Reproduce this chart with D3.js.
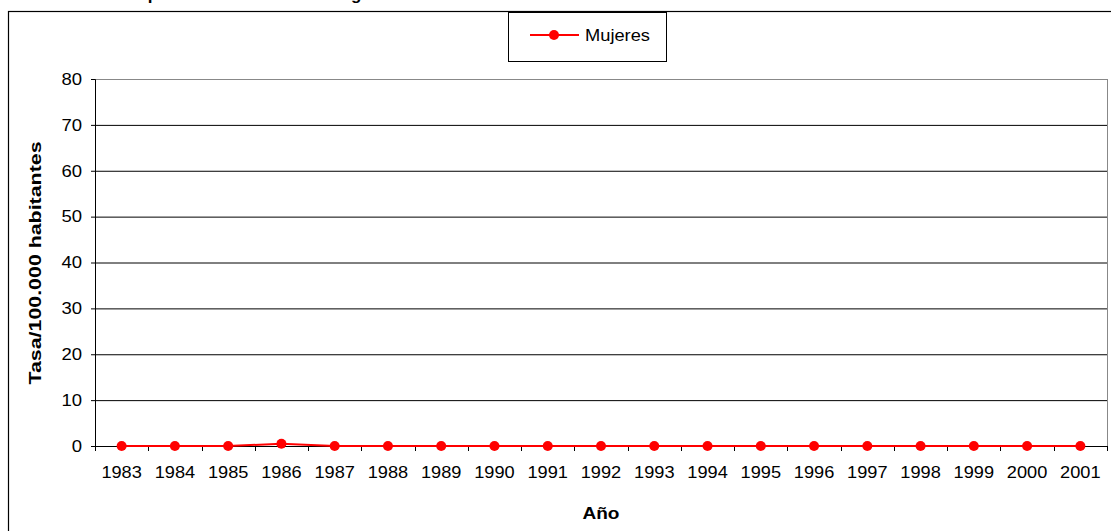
<!DOCTYPE html>
<html><head><meta charset="utf-8">
<script src="https://cdn.jsdelivr.net/npm/d3@7"></script>
<style>
html,body{margin:0;padding:0;background:#fff;overflow:hidden}
text{font-family:"Liberation Sans",Arial,sans-serif;fill:#000}
</style></head>
<body>
<svg id="c" width="1111" height="531"></svg>
<script>
const years = ["1983","1984","1985","1986","1987","1988","1989","1990","1991","1992","1993","1994","1995","1996","1997","1998","1999","2000","2001"];
const mujeres = [0,0,0,0.5,0,0,0,0,0,0,0,0,0,0,0,0,0,0,0];
const yTicks = [0,10,20,30,40,50,60,70,80];
const seriesName = "Mujeres";
const yTitle = "Tasa/100.000 habitantes";
const xTitle = "Año";
const chartTitle = "Tasa específica de mortalidad según sexo";

const svg = d3.select("#c");
const L = 95, R = 1107, T = 79, B = 446;
const x = d3.scaleBand().domain(years).range([L, R]).padding(0);
const y = d3.scaleLinear().domain([0, 80]).range([B, T]);

// title (mostly clipped above)
const tt = svg.append("text").attr("y", 0).attr("font-size", 17).attr("font-weight", "bold").text(chartTitle);
const pIdx = chartTitle.indexOf("p");
const pOff = tt.node().getSubStringLength(0, pIdx) + tt.node().getSubStringLength(pIdx,1)/2;
tt.attr("x", 153 - pOff);

// outer chart border
svg.append("rect").attr("x", 8.5).attr("y", 11.5).attr("width", 1200).attr("height", 600)
  .attr("fill", "none").attr("stroke", "#000").attr("stroke-width", 1.2);

// gridlines
const grid = svg.append("g").attr("transform", `translate(${L},0)`)
  .call(d3.axisLeft(y).tickValues(yTicks).tickSize(-(R - L)).tickFormat(""));
grid.select(".domain").remove();
grid.selectAll(".tick line").attr("stroke", d => d === 80 ? "#888" : "#000").attr("stroke-width", 1);

// plot right border
svg.append("line").attr("x1", R + 0.5).attr("x2", R + 0.5).attr("y1", T).attr("y2", B).attr("stroke", "#888");

// y axis
const ya = svg.append("g").attr("transform", `translate(${L},0)`)
  .call(d3.axisLeft(y).tickValues(yTicks).tickSize(4).tickPadding(9));
ya.select(".domain").attr("stroke", "#000");
ya.selectAll(".tick line").attr("stroke", "#000");
ya.selectAll("text").attr("font-size", 16.5).attr("font-family", "Liberation Sans, Arial, sans-serif")
  .attr("textLength", d => String(d).length * 10.3).attr("lengthAdjust", "spacingAndGlyphs");

// x axis
const xa = svg.append("g").attr("transform", `translate(0,${B})`)
  .call(d3.axisBottom(x).tickSize(0).tickPadding(20));
xa.select(".domain").remove();
xa.selectAll("text").attr("font-size", 16.5).attr("font-family", "Liberation Sans, Arial, sans-serif")
  .attr("dy", "0.32em").attr("y", 27)
  .attr("textLength", 40.5).attr("lengthAdjust", "spacingAndGlyphs");
svg.append("line").attr("x1", L).attr("x2", R).attr("y1", B + 0.5).attr("y2", B + 0.5).attr("stroke", "#000");
const bounds = years.map(d => x(d)).concat([R]);
svg.append("g").selectAll("line").data(bounds).join("line")
  .attr("x1", d => Math.round(d) + 0.5).attr("x2", d => Math.round(d) + 0.5)
  .attr("y1", B).attr("y2", B + 5).attr("stroke", "#000");

// series
const line = d3.line().x((d, i) => x(years[i]) + x.bandwidth() / 2).y(d => y(d));
svg.append("path").datum(mujeres).attr("d", line).attr("fill", "none").attr("stroke", "#ff0000").attr("stroke-width", 2);
svg.append("g").selectAll("circle").data(mujeres).join("circle")
  .attr("cx", (d, i) => x(years[i]) + x.bandwidth() / 2).attr("cy", d => y(d)).attr("r", 5).attr("fill", "#ff0000");

// axis titles
svg.append("text").attr("transform", "translate(41,263) rotate(-90)").attr("text-anchor", "middle")
  .attr("font-size", 17).attr("font-weight", "bold")
  .attr("textLength", 243).attr("lengthAdjust", "spacingAndGlyphs").text(yTitle);
svg.append("text").attr("x", 601).attr("y", 519).attr("text-anchor", "middle")
  .attr("font-size", 16.5).attr("font-weight", "bold")
  .attr("textLength", 37).attr("lengthAdjust", "spacingAndGlyphs").text(xTitle);

// legend
const lg = svg.append("g");
lg.append("rect").attr("x", 508.5).attr("y", 12.5).attr("width", 158).attr("height", 49)
  .attr("fill", "#fff").attr("stroke", "#000");
lg.append("line").attr("x1", 530).attr("x2", 579).attr("y1", 35).attr("y2", 35).attr("stroke", "#ff0000").attr("stroke-width", 2);
lg.append("circle").attr("cx", 554).attr("cy", 35).attr("r", 5).attr("fill", "#ff0000");
lg.append("text").attr("x", 585).attr("y", 35).attr("dy", "0.35em").attr("font-size", 16.5)
  .attr("textLength", 65).attr("lengthAdjust", "spacingAndGlyphs").text(seriesName);
</script>
</body></html>
